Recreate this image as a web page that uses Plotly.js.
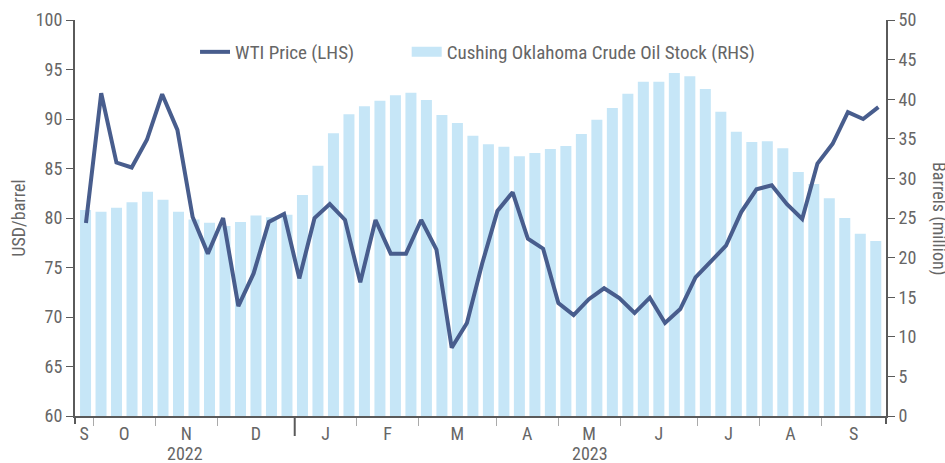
<!DOCTYPE html>
<html><head><meta charset="utf-8">
<script src="https://cdn.plot.ly/plotly-3.0.1.min.js"></script>
<style>html,body{margin:0;padding:0;background:#fff}#chart{width:945px;height:463px}</style>
</head><body><div id="chart"></div>
<script>
// ---- data ----
const monthLabels = ['S','O','N','D','J','F','M','A','M','J','J','A','S'];
const weeksPerMonth = [1,4,4,5,4,4,5,4,4,5,4,4,4];
const yearLabels = ['2022','2023'];
const monthsPerYear = [4, 9];
// Cushing Oklahoma crude oil stock, million barrels (weekly, RHS)
const cushingStock = [26.0,25.8,26.3,27.0,28.3,27.3,25.8,24.8,24.4,24.0,
  24.5,25.3,25.1,25.4,27.9,31.6,35.7,38.1,39.1,39.8,
  40.5,40.8,39.9,38.0,37.0,35.4,34.3,34.0,32.8,33.2,
  33.7,34.1,35.6,37.4,38.9,40.7,42.2,42.2,43.3,42.9,
  41.3,38.4,35.9,34.6,34.7,33.8,30.8,29.3,27.5,25.0,
  23.0,22.1];
// WTI price, USD/barrel (LHS)
const wtiPrice = [79.5,92.6,85.6,85.1,87.9,92.5,88.9,80.1,76.4,80.0,
  71.1,74.4,79.6,80.4,73.9,80.0,81.4,79.8,73.5,79.8,
  76.4,76.4,79.8,76.8,66.9,69.4,75.4,80.7,82.6,77.9,
  76.9,71.4,70.2,71.8,72.9,71.9,70.4,71.95,69.4,70.8,
  74.0,75.6,77.2,80.6,82.9,83.3,81.4,79.9,85.5,87.5,
  90.7,90.0,91.2];

// ---- styling ----
const FONT = 'Roboto Condensed, Roboto, sans-serif';
const TXT = '#666666';
const AXC = '#5a5a5a';
const BAR = '#c6e6f7';
const LINE = '#485d8d';
const FS = 18;
const LFS = 19;

const xRange = [-0.68, 51.66];
const x2Range = [-0.72, 52.5];

// month boundaries / centres from week counts
const bounds = [];
let cum = 0;
weeksPerMonth.forEach(w => { cum += w; bounds.push(cum - 0.5); });
const starts = [xRange[0]].concat(bounds.slice(0, -1));
const ends = bounds.slice(0, -1).concat([xRange[1]]);
const monthCentres = starts.map((s, i) => (s + ends[i]) / 2);
const interior = bounds.slice(0, -1);
// year boundaries
const yearEdges = [xRange[0]];
let mi = 0;
monthsPerYear.forEach(n => { mi += n; yearEdges.push(mi < starts.length ? starts[mi] : xRange[1]); });
const yearCentres = yearLabels.map((_, i) => (yearEdges[i] + yearEdges[i + 1]) / 2);

const barIdx = cushingStock.map((_, i) => i);
const lineIdx = wtiPrice.map((_, i) => i);

const traces = [
  {type: 'bar', x: barIdx, y: cushingStock, xaxis: 'x', yaxis: 'y',
   marker: {color: BAR}, showlegend: false, hoverinfo: 'skip',
   name: 'Cushing Oklahoma Crude Oil Stock (RHS)'},
  {type: 'scatter', mode: 'lines', x: lineIdx, y: wtiPrice, xaxis: 'x2', yaxis: 'y2',
   line: {color: LINE, width: 4}, name: 'WTI Price (LHS)', legend: 'legend'},
  {type: 'scatter', mode: 'lines', x: [null], y: [null], xaxis: 'x', yaxis: 'y',
   line: {color: BAR, width: 16}, name: 'Cushing Oklahoma Crude Oil Stock (RHS)', legend: 'legend2'}
];

const H = 396;
const legendBase = {orientation: 'h', xanchor: 'left', y: 1 - 32 / H, yanchor: 'middle',
  bgcolor: 'rgba(0,0,0,0)', font: {family: FONT, size: LFS, color: TXT}};
const layout = {
  width: 945, height: 463,
  margin: {l: 75, r: 59, t: 20, b: 47},
  paper_bgcolor: '#fff', plot_bgcolor: '#fff',
  font: {family: FONT, size: FS, color: TXT},
  bargap: 0.29,
  showlegend: true,
  legend: Object.assign({x: 0.148}, legendBase),
  legend2: Object.assign({x: 0.409}, legendBase),
  xaxis: {range: xRange, showgrid: false, zeroline: false, showline: true, linecolor: AXC, linewidth: 2,
    tickmode: 'array', tickvals: monthCentres, ticktext: monthLabels, ticks: '',
    ticklabelstandoff: 0,
    tickfont: {family: FONT, size: FS, color: TXT},
    minor: {tickmode: 'array', tickvals: interior, ticks: 'outside', ticklen: 8, tickwidth: 1, tickcolor: '#aaaaaa', showgrid: false},
    anchor: 'y', fixedrange: true},
  xaxis2: {range: x2Range, overlaying: 'x', anchor: 'y2', visible: false, fixedrange: true},
  yaxis: {range: [0, 50], side: 'right', dtick: 5, tick0: 0, showgrid: false, zeroline: false,
    showline: true, linecolor: AXC, linewidth: 2, ticks: 'outside', ticklen: 7, tickwidth: 1, tickcolor: AXC,
    tickfont: {family: FONT, size: FS, color: TXT}, fixedrange: true},
  yaxis2: {range: [60, 100], side: 'left', overlaying: 'y', dtick: 5, tick0: 60, showgrid: false, zeroline: false,
    showline: true, linecolor: AXC, linewidth: 2, ticks: 'outside', ticklen: 7, tickwidth: 1, tickcolor: AXC,
    tickfont: {family: FONT, size: FS, color: TXT},
    title: {text: 'USD/barrel', font: {family: FONT, size: FS, color: TXT}, standoff: 5}, fixedrange: true},
  shapes: [
    {type: 'line', xref: 'x', yref: 'paper', x0: yearEdges[1], x1: yearEdges[1], y0: 0, y1: -20 / H,
     line: {color: AXC, width: 2}},
    {type: 'line', xref: 'paper', yref: 'paper', x0: 0, x1: 0, y0: 0, y1: -8 / H, line: {color: AXC, width: 2}},
    {type: 'line', xref: 'paper', yref: 'paper', x0: 1, x1: 1, y0: 0, y1: -8 / H, line: {color: AXC, width: 2}}
  ],
  annotations: yearLabels.map((t, i) => ({text: t, xref: 'x', yref: 'paper', x: yearCentres[i], y: -37.5 / H,
    yanchor: 'middle', xanchor: 'center', showarrow: false, font: {family: FONT, size: FS, color: TXT}}))
    .concat([{text: 'Barrels (million)', textangle: 90, xref: 'paper', yref: 'paper', x: 1, xshift: 53,
      y: 0.5, yanchor: 'middle', xanchor: 'center', showarrow: false,
      font: {family: FONT, size: FS, color: TXT}}])
};

Plotly.newPlot('chart', traces, layout, {staticPlot: true, displayModeBar: false});
</script>
</body></html>
